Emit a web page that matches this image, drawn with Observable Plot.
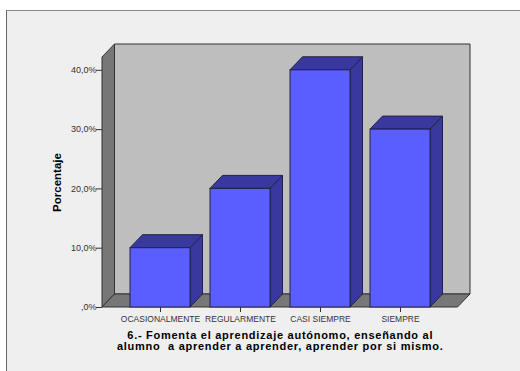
<!DOCTYPE html>
<html>
<head>
<meta charset="utf-8">
<script src="https://cdn.jsdelivr.net/npm/d3@7"></script>
<script src="https://cdn.jsdelivr.net/npm/@observablehq/plot@0.6"></script>
<style>
html,body{margin:0;padding:0;background:#fff;overflow:hidden}
#panel{position:absolute;left:6px;top:10px;width:600px;height:500px;background:#efefef;border-left:1px solid #666;border-top:1px solid #888}
#chart{position:absolute;left:0;top:0}
text{font-family:"Liberation Sans",Arial,sans-serif}
.title-text{letter-spacing:0.73px}
</style>
</head>
<body>
<div id="panel"></div>
<div id="chart"></div>
<script>
const categories = ["OCASIONALMENTE", "REGULARMENTE", "CASI SIEMPRE", "SIEMPRE"];
const percentages = [10, 20, 40, 30];
const yTicks = [0, 10, 20, 30, 40];
const yLabel = "Porcentaje";
const titleLines = [
  "6.- Fomenta el aprendizaje autónomo, enseñando al",
  "alumno  a aprender a aprender, aprender por si mismo."
];
const rows = categories.map((category, i) => ({category, value: percentages[i]}));

const depthX = 12.5, depthY = 13;
const wallColor = "#bebebe", shadeColor = "#777777";
const frontColor = "#5a5eff", faceColor = "#38389f", edgeColor = "#222244";

const poly = (g, points, fill, stroke) =>
  g.append("polygon").attr("points", points.map(p => p.join(",")).join(" "))
    .attr("fill", fill).attr("stroke", stroke).attr("stroke-width", 1).attr("stroke-linejoin", "round");

function walls(index, scales, values, dim) {
  const g = d3.create("svg:g");
  const L = dim.marginLeft, R = dim.width - dim.marginRight;
  const T = dim.marginTop, B = dim.height - dim.marginBottom;
  poly(g, [[L + depthX, T - depthY], [R + depthX, T - depthY], [R + depthX, B - depthY], [L + depthX, B - depthY]], wallColor, "#333");
  poly(g, [[L, T], [L + depthX, T - depthY], [L + depthX, B - depthY], [L, B]], shadeColor, "#333");
  poly(g, [[L, B], [L + depthX, B - depthY], [R + depthX, B - depthY], [R, B]], shadeColor, "#333");
  return g.node();
}

function faces(index, scales) {
  const g = d3.create("svg:g");
  const bw = scales.x.bandwidth();
  for (const d of rows) {
    const l = scales.x(d.category), r = l + bw;
    const t = scales.y(d.value), b = scales.y(0);
    poly(g, [[r, b], [r + depthX, b - depthY], [r + depthX, t - depthY], [r, t]], faceColor, edgeColor);
    poly(g, [[l, t], [l + depthX, t - depthY], [r + depthX, t - depthY], [r, t]], faceColor, edgeColor);
  }
  return g.node();
}

const plot = Plot.plot({
  width: 520,
  height: 371,
  marginTop: 57,
  marginBottom: 64,
  marginLeft: 102,
  marginRight: 62.5,
  style: {background: "transparent", fontFamily: "'Liberation Sans',Arial,sans-serif", color: "#333"},
  x: {type: "band", domain: categories, range: [120, 440], paddingInner: 0.25, paddingOuter: 0.125, label: null},
  y: {domain: [0, 42.16], range: [307, 57], label: null},
  marks: [
    walls,
    faces,
    Plot.barY(rows, {x: "category", y: "value", fill: frontColor, stroke: edgeColor, strokeWidth: 1}),
    Plot.axisY({
      ticks: yTicks, tickSize: 6, tickPadding: 0, fontSize: 9, label: null,
      tickFormat: d => (d === 0 ? "" : d) + ",0%"
    }),
    Plot.axisX({tickSize: 5, tickPadding: 3, fontSize: 8.5, label: null}),
    Plot.text([yLabel], {
      frameAnchor: "left", textAnchor: "middle", rotate: -90, dx: -45, text: d => d,
      fontSize: 11.5, fontWeight: "bold", fill: "#000"
    }),
    Plot.text([titleLines.join("\n")], {
      frameAnchor: "bottom", dy: 24, lineAnchor: "top", lineHeight: 1.0, text: d => d,
      fontSize: 11, fontWeight: "bold", fill: "#000", className: "title-text"
    })
  ]
});
document.getElementById("chart").append(plot);
</script>
</body>
</html>
